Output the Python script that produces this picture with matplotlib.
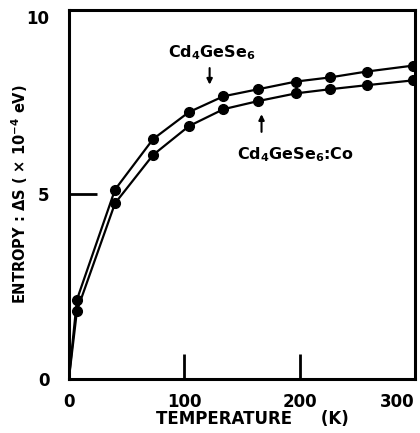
import numpy as np
import matplotlib
matplotlib.use("Agg")
import matplotlib.pyplot as plt

plt.rcParams['font.family'] = ['DejaVu Sans']
plt.rcParams['font.weight'] = 'bold'
plt.rcParams['mathtext.fontset'] = 'custom'
plt.rcParams['mathtext.rm'] = 'DejaVu Sans:bold'
plt.rcParams['mathtext.bf'] = 'DejaVu Sans:bold'
plt.rcParams['mathtext.default'] = 'bf'

# temperature (K) and entropy (x10^-4 eV)
temp = [0, 7, 40, 73, 104, 134, 164, 197, 226, 258, 298]
s_pure = [0, 2.15, 5.13, 6.5, 7.23, 7.66, 7.85, 8.06, 8.17, 8.33, 8.49]
s_co = [0, 1.85, 4.76, 6.07, 6.85, 7.31, 7.53, 7.74, 7.85, 7.96, 8.09]

xticks = [0, 100, 200, 300]
yticks = [0, 5, 10]
xmarks = [100, 200]   # inner tick marks
ymarks = [5]

fig = plt.figure(figsize=(4.2, 4.33), dpi=100)
ax = fig.add_axes([0.164, 0.125, 0.824, 0.852])

for s in (s_pure, s_co):
    ax.plot(temp, s, color='black', lw=1.6, zorder=2)
    ax.plot(temp[1:], s[1:], 'o', color='black', ms=7, zorder=3)

ax.set_xlim(0, 300)
ax.set_ylim(0, 10)
ax.set_xticks(xticks)
ax.set_yticks(yticks)
ax.xaxis.remove_overlapping_locs = False
ax.yaxis.remove_overlapping_locs = False
ax.set_xticks(xmarks, minor=True)
ax.set_yticks(ymarks, minor=True)
ax.tick_params(axis='both', which='major', length=0, labelsize=12)
ax.tick_params(axis='x', which='major', pad=10)
ax.tick_params(axis='y', which='major', pad=14)
ax.tick_params(axis='x', which='minor', bottom=True, top=False, direction='in',
               length=18, width=2, color='black')
ax.tick_params(axis='y', which='minor', left=True, right=False, direction='in',
               length=20, width=2, color='black')
ax.get_xticklabels()[-1].set_horizontalalignment('right')
ax.get_yticklabels()[-1].set_verticalalignment('top')
for sp in ax.spines.values():
    sp.set_linewidth(2.2)

ax.set_xlabel('TEMPERATURE     (K)', fontsize=12, fontweight='bold')
ax.xaxis.set_label_coords(0.529, -0.085)
ax.set_ylabel(r'ENTROPY : $\Delta$S ( $\times$ 10$^{-4}$ eV)', fontsize=10.5,
              fontweight='bold')
ax.yaxis.set_label_coords(-0.112, 0.5)

ax.text(124, 8.84, r'Cd$_4$GeSe$_6$', fontsize=11.5, ha='center', va='center')
ax.annotate('', xy=(122, 7.9), xytext=(122, 8.5),
            arrowprops=dict(arrowstyle='-|>', color='black', lw=1.5, mutation_scale=8))
ax.text(196, 6.08, r'Cd$_4$GeSe$_6$:Co', fontsize=11.5, ha='center', va='center')
ax.annotate('', xy=(167, 7.25), xytext=(167, 6.62),
            arrowprops=dict(arrowstyle='-|>', color='black', lw=1.5, mutation_scale=8))

fig.savefig('out.png', dpi=100)
